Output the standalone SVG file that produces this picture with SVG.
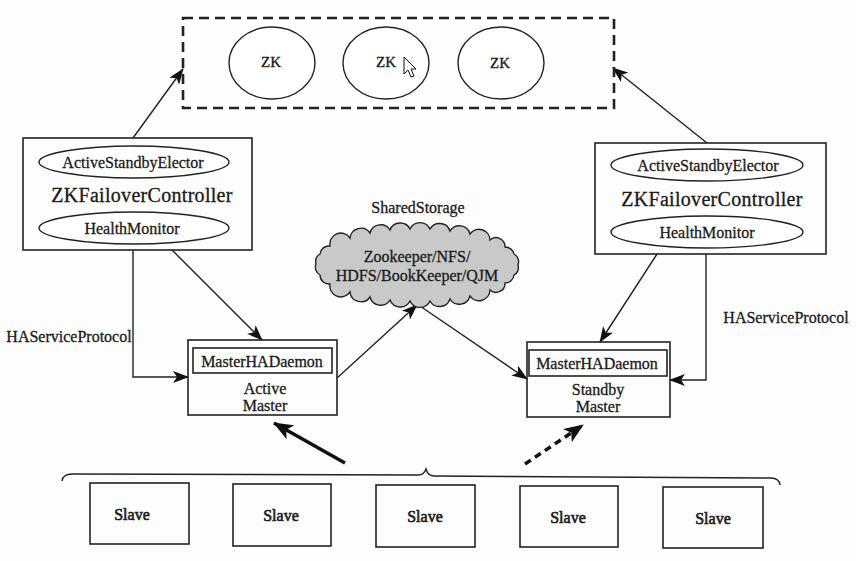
<svg xmlns="http://www.w3.org/2000/svg" width="856" height="561" viewBox="0 0 856 561">
<style>
text{font-family:"Liberation Serif","Times New Roman",serif;fill:#1a1a1a;stroke:#1a1a1a;stroke-width:0.3;text-anchor:middle;dominant-baseline:central}
.t16{font-size:16px}
.t15{font-size:15px}
.t20{font-size:20px;letter-spacing:0.3px}
.sl{font-size:16px;stroke-width:0.6}
.box{fill:none;stroke:#222;stroke-width:1.6}
.ell{fill:#fff;stroke:#222;stroke-width:1.4}
.ln{fill:none;stroke:#222;stroke-width:1.4}
</style>
<defs>
<marker id="ah" markerUnits="userSpaceOnUse" markerWidth="16" markerHeight="12" refX="15" refY="6" orient="auto">
<path d="M0,0 L16,6 L0,12 L4,6 Z" fill="#111"/>
</marker>
<marker id="ahb" markerUnits="userSpaceOnUse" markerWidth="20" markerHeight="16" refX="19" refY="8" orient="auto">
<path d="M0,0 L20,8 L0,16 L5,8 Z" fill="#111"/>
</marker>
</defs>
<rect width="856" height="561" fill="#fdfdfd"/>

<g id="connectors">
<line class="ln" x1="133" y1="138" x2="183" y2="69" marker-end="url(#ah)"/>
<line class="ln" x1="707" y1="143" x2="613" y2="68" marker-end="url(#ah)"/>
<polyline class="ln" points="133,250 133,377 188,377" marker-end="url(#ah)"/>
<line class="ln" x1="172" y1="250" x2="262" y2="340" marker-end="url(#ah)"/>
<line class="ln" x1="337" y1="378" x2="417" y2="305" marker-end="url(#ah)"/>
<line class="ln" x1="417" y1="304" x2="527" y2="379" marker-end="url(#ah)"/>
<line class="ln" x1="657" y1="254" x2="600" y2="342" marker-end="url(#ah)"/>
<polyline class="ln" points="706,254 706,380 670,380" marker-end="url(#ah)"/>
<line x1="345" y1="463" x2="274" y2="423" stroke="#111" stroke-width="3.5" marker-end="url(#ahb)"/>
<line x1="525" y1="464" x2="583" y2="425" stroke="#111" stroke-width="3.5" stroke-dasharray="7,5" marker-end="url(#ahb)"/>
</g>

<g id="zk-ensemble">
<rect x="183" y="18" width="431" height="90" fill="none" stroke="#222" stroke-width="2.6" stroke-dasharray="10,6"/>
<g id="zk1"><ellipse class="ell" cx="272" cy="63" rx="43" ry="36"/><text class="t15" x="271" y="62">ZK</text></g>
<g id="zk2"><ellipse class="ell" cx="386" cy="63" rx="43" ry="36"/><text class="t15" x="386" y="62">ZK</text></g>
<g id="zk3"><ellipse class="ell" cx="501" cy="63" rx="43" ry="36"/><text class="t15" x="500" y="63">ZK</text></g>
<path d="M404,57 L404,74 L408,70 L411,77 L414,76 L411,69 L416,69 Z" fill="#fff" stroke="#111" stroke-width="1"/>
</g>

<g id="zkfc-left">
<rect class="box" x="23" y="138" width="229" height="112"/>
<ellipse class="ell" cx="134" cy="162" rx="95" ry="16"/>
<text class="t16" x="133" y="162">ActiveStandbyElector</text>
<text class="t20" x="142" y="195">ZKFailoverController</text>
<ellipse class="ell" cx="134" cy="228" rx="95" ry="16"/>
<text class="t16" x="132" y="228">HealthMonitor</text>
</g>

<g id="zkfc-right">
<rect class="box" x="595" y="143" width="231" height="111"/>
<ellipse class="ell" cx="707" cy="165" rx="96" ry="16"/>
<text class="t16" x="708" y="165">ActiveStandbyElector</text>
<text class="t20" x="712" y="199">ZKFailoverController</text>
<ellipse class="ell" cx="707" cy="232" rx="96" ry="16"/>
<text class="t16" x="707" y="232">HealthMonitor</text>
</g>

<g id="shared-storage">
<text class="t16" x="418" y="207">SharedStorage</text>
<path d="M316,264 A9,9 0 0 1 320,254 A9,9 0 0 1 330,246 A11,11 0 0 1 350,238 A11,11 0 0 1 370,233 A11,11 0 0 1 390,230 A11,11 0 0 1 410,229 A11,11 0 0 1 430,229 A11,11 0 0 1 450,231 A11,11 0 0 1 470,234 A11,11 0 0 1 490,240 A9,9 0 0 1 505,247 A9,9 0 0 1 514,254 A9,9 0 0 1 518,265 A9,9 0 0 1 514,275 A9,9 0 0 1 505,283 A9,9 0 0 1 490,290 A11,11 0 0 1 470,296 A11,11 0 0 1 450,299 A11,11 0 0 1 430,301 A11,11 0 0 1 410,301 A11,11 0 0 1 390,300 A11,11 0 0 1 370,297 A11,11 0 0 1 350,292 A11,11 0 0 1 330,284 A9,9 0 0 1 320,275 A9,9 0 0 1 316,264 Z" fill="#c9c9c9" stroke="#222" stroke-width="1.4"/>
<text class="t16" x="417" y="256">Zookeeper/NFS/</text>
<text class="t16" x="417" y="275">HDFS/BookKeeper/QJM</text>
</g>

<g id="active-master">
<rect class="box" x="188" y="340" width="149" height="75"/>
<rect class="box" x="193" y="348" width="139" height="25"/>
<text class="t16" x="262" y="361">MasterHADaemon</text>
<text class="t16" x="265" y="388">Active</text>
<text class="t16" x="265" y="405">Master</text>
</g>

<g id="standby-master">
<rect class="box" x="527" y="342" width="143" height="75"/>
<rect class="box" x="529" y="350" width="138" height="26"/>
<text class="t16" x="597" y="363">MasterHADaemon</text>
<text class="t16" x="598" y="389">Standby</text>
<text class="t16" x="598" y="406">Master</text>
</g>

<text class="t16" x="69" y="336">HAServiceProtocol</text>
<text class="t16" x="786" y="317">HAServiceProtocol</text>

<g id="slaves">
<path d="M62,481 Q63,474 72,474 L418,475 Q424,475 426,469 Q428,476 434,476 L771,478 Q779,478 780,485" fill="none" stroke="#222" stroke-width="1.4"/>
<g id="slave1"><rect class="box" x="90" y="483" width="99" height="61"/><text class="sl" x="132" y="514">Slave</text></g>
<g id="slave2"><rect class="box" x="233" y="484" width="98" height="62"/><text class="sl" x="281" y="515">Slave</text></g>
<g id="slave3"><rect class="box" x="376" y="485" width="99" height="62"/><text class="sl" x="425" y="516">Slave</text></g>
<g id="slave4"><rect class="box" x="520" y="486" width="98" height="61"/><text class="sl" x="568" y="517">Slave</text></g>
<g id="slave5"><rect class="box" x="663" y="487" width="100" height="61"/><text class="sl" x="713" y="518">Slave</text></g>
</g>
</svg>
